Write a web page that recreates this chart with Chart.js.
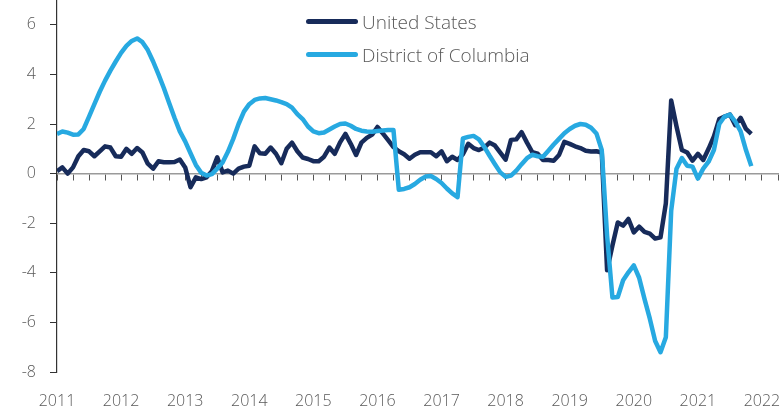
<!DOCTYPE html>
<html>
<head>
<meta charset="utf-8">
<script src="https://cdn.jsdelivr.net/npm/chart.js@4"></script>
<style>
  body{margin:0;background:#fff;font-family:"Segoe UI","Open Sans",sans-serif;}
  #wrap{position:relative;width:782px;height:410px;}
  .legend{position:absolute;left:306px;top:5px;color:#595959;font-size:19px;font-weight:300;}
  .legend div{height:33px;line-height:30px;display:flex;align-items:center;}
  .legend i{display:inline-block;width:52px;height:5px;border-radius:3px;margin-right:4px;}
</style>
</head>
<body>
<div id="wrap">
  <canvas id="c" width="782" height="410"></canvas>
  <div class="legend">
    <div><i style="background:#172b5a"></i>United States</div>
    <div><i style="background:#27a9e1"></i>District of Columbia</div>
  </div>
</div>
<script>
// monthly values, Jan 2011 .. Nov 2021
const startYear = 2011;
const usValues = [
  0.1,0.25,0.0,0.25,0.7,0.95,0.9,0.7,0.9,1.1,1.05,0.7,
  0.68,1.0,0.8,1.03,0.85,0.4,0.2,0.5,0.46,0.46,0.47,0.57,
  0.25,-0.55,-0.15,-0.22,-0.15,0.1,0.66,0.05,0.12,0.0,0.2,0.28,
  0.32,1.1,0.82,0.8,1.05,0.8,0.42,1.0,1.25,0.9,0.65,0.59,
  0.5,0.5,0.68,1.05,0.8,1.26,1.6,1.2,0.75,1.25,1.44,1.57,
  1.88,1.62,1.35,1.07,0.9,0.78,0.6,0.76,0.86,0.86,0.86,0.7,
  0.9,0.5,0.68,0.55,0.78,1.2,1.03,0.95,1.05,1.25,1.13,0.85,
  0.56,1.36,1.38,1.67,1.25,0.86,0.8,0.55,0.55,0.52,0.75,1.28,
  1.2,1.1,1.03,0.92,0.89,0.9,0.85,-3.9,-2.9,-1.97,-2.1,-1.83,
  -2.37,-2.14,-2.35,-2.42,-2.62,-2.57,-1.2,2.95,1.9,0.95,0.85,0.52,
  0.8,0.55,1.0,1.5,2.2,2.3,2.38,1.95,2.25,1.8,1.6
];
const dcValues = [
  1.6,1.7,1.65,1.57,1.58,1.8,2.3,2.8,3.3,3.75,4.15,4.52,
  4.87,5.15,5.35,5.45,5.3,4.98,4.52,4.0,3.45,2.85,2.25,1.7,
  1.3,0.82,0.35,0.03,-0.08,-0.02,0.2,0.45,0.88,1.4,2.0,2.5,
  2.8,2.97,3.03,3.05,3.0,2.95,2.88,2.8,2.66,2.4,2.2,1.9,
  1.7,1.63,1.66,1.78,1.9,2.0,2.02,1.93,1.8,1.73,1.7,1.69,
  1.72,1.74,1.76,1.76,-0.65,-0.62,-0.55,-0.42,-0.25,-0.12,-0.1,-0.22,
  -0.38,-0.6,-0.8,-0.95,1.42,1.48,1.52,1.38,1.08,0.72,0.38,0.05,
  -0.13,-0.08,0.12,0.38,0.62,0.76,0.7,0.68,0.92,1.17,1.4,1.63,
  1.8,1.93,2.0,1.97,1.85,1.62,0.95,-2.5,-5.0,-4.98,-4.3,-3.98,
  -3.7,-4.2,-5.05,-5.85,-6.75,-7.2,-6.6,-1.5,0.2,0.63,0.32,0.28,
  -0.2,0.2,0.48,0.95,2.0,2.3,2.38,2.1,1.7,0.95,0.3
];
const yearTicks = [2011,2012,2013,2014,2015,2016,2017,2018,2019,2020,2021,2022];
const yTicks = [-8,-6,-4,-2,0,2,4,6];
const xMin = 2011, xMax = 2022.25;

const pts = arr => arr.map((v,i)=>({x:startYear+i/12, y:v}));
const font = {family:'"Segoe UI","Open Sans",sans-serif', size:16, weight:'300'};
const grey = '#595959';

// quarter marks along the zero line
const quarterTicks = [];
for(let q=xMin*4; q<=xMax*4; q++) quarterTicks.push({value:q/4});

new Chart(document.getElementById('c'), {
  type:'line',
  data:{datasets:[
    {label:'District of Columbia', data:pts(dcValues), borderColor:'#27a9e1', borderWidth:4.5},
    {label:'United States', data:pts(usValues), borderColor:'#172b5a', borderWidth:4.5}
  ]},
  options:{
    responsive:false, animation:false,
    layout:{padding:{top:0,right:4,bottom:0,left:0}},
    elements:{point:{radius:0}, line:{tension:0, borderJoinStyle:'round', fill:false}},
    plugins:{legend:{display:false}, tooltip:{enabled:false}},
    scales:{
      x:{type:'linear', min:xMin, max:xMax, position:'bottom',
        afterBuildTicks:s=>{ s.ticks = yearTicks.map(v=>({value:v})); },
        afterFit:s=>{ s.paddingLeft=0; s.paddingRight=0; s.height=38; },
        grid:{display:false, drawTicks:false}, border:{display:false},
        ticks:{font, color:grey, padding:20, maxRotation:0, autoSkip:false, callback:v=>String(v)}},
      x2:{type:'linear', min:xMin, max:xMax, position:{y:0}, axis:'x',
        afterBuildTicks:s=>{ s.ticks = quarterTicks.slice(); },
        afterFit:s=>{ s.height=0; s.paddingLeft=0; s.paddingRight=0; },
        ticks:{display:false},
        grid:{drawOnChartArea:false, drawTicks:true, tickLength:6, color:'#555'},
        border:{display:true, color:'#9a9a9a', width:1.5}},
      y:{min:-8, max:7,
        afterBuildTicks:s=>{ s.ticks = yTicks.map(v=>({value:v})); },
        afterFit:s=>{ s.width=57; s.paddingTop=0; s.paddingBottom=0; },
        grid:{drawOnChartArea:false, drawTicks:true, tickLength:7, color:'#333'},
        border:{display:true, color:'#333', width:1.2},
        ticks:{font, color:grey, padding:14}}
    }
  }
});
</script>
</body>
</html>
